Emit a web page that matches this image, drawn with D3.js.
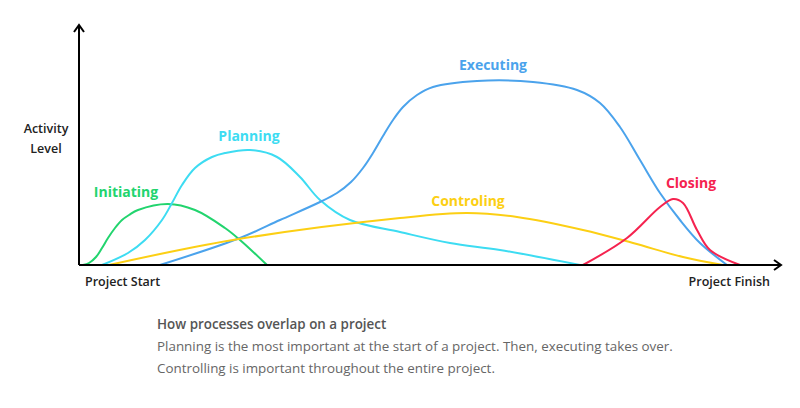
<!DOCTYPE html>
<html>
<head>
<meta charset="utf-8">
<script src="https://cdn.jsdelivr.net/npm/d3@7"></script>
<style>
  body { margin: 0; background: #fff; font-family: "Open Sans", sans-serif; }
  .label { font-weight: 700; font-size: 14px; text-anchor: middle; }
  .axisText { font-weight: 600; font-size: 12.5px; fill: #222; }
</style>
</head>
<body>
<div id="chart"></div>
<script>
// time along the project (0 = start, 700 = finish) and activity level (0 - 240)
let initiatingX = [4, 10, 17, 23, 29, 36, 43, 50, 59, 89, 116, 146, 161, 188];
let initiatingY = [0, 2, 8, 17, 27, 37, 45, 50, 55, 61, 55, 37, 25, 0];

let planningX = [23, 49, 66, 83, 93, 103, 116, 133, 146, 171, 198, 221, 241, 271, 321, 371, 421, 501];
let planningY = [0, 12, 25, 45, 62, 80, 97, 108, 112, 115, 108, 88, 65, 45, 33, 22, 15, 0];

let executingX = [81, 161, 201, 241, 258, 272, 284, 294, 304, 314, 324, 338, 354, 398, 454, 498, 521, 541, 561, 581, 601, 621, 648];
let executingY = [0, 27, 45, 63, 72, 83, 97, 112, 129, 145, 158, 170, 178, 184, 183, 175, 162, 138, 105, 72, 45, 22, 0];

let controllingX = [30, 154, 321, 388, 438, 504, 554, 604, 644];
let controllingY = [0, 25, 47, 52, 48, 35, 22, 8, 0];

let closingX = [504, 548, 581, 594, 604, 618, 631, 661];
let closingY = [0, 27, 58, 66, 62, 35, 15, 0];

let series = [
  { name: "Initiating", xs: initiatingX, ys: initiatingY, color: "#22d46e", lx: 47, ly: 68 },
  { name: "Planning", xs: planningX, ys: planningY, color: "#3ddcf2", lx: 170, ly: 124 },
  { name: "Executing", xs: executingX, ys: executingY, color: "#4ba3ec", lx: 414, ly: 195 },
  { name: "Controling", xs: controllingX, ys: controllingY, color: "#fccf14", lx: 389, ly: 59 },
  { name: "Closing", xs: closingX, ys: closingY, color: "#f5234f", lx: 612, ly: 77 }
];

let svgWidth = 800;
let svgHeight = 408;

let x = d3.scaleLinear().domain([0, 700]).range([79, 779]);
let y = d3.scaleLinear().domain([0, 240]).range([265, 25]);

let svg = d3.select("#chart")
  .append("svg")
  .attr("width", svgWidth)
  .attr("height", svgHeight);

let line = d3.line()
  .x(d => x(d[0]))
  .y(d => y(d[1]))
  .curve(d3.curveCatmullRom.alpha(0.5));

// curves
series.forEach(s => {
  let pts = s.xs.map((v, i) => [v, s.ys[i]]);
  svg.append("path")
    .datum(pts)
    .attr("d", line)
    .attr("fill", "none")
    .attr("stroke", s.color)
    .attr("stroke-width", 2);

  svg.append("text")
    .attr("class", "label")
    .attr("x", x(s.lx))
    .attr("y", y(s.ly))
    .attr("fill", s.color)
    .text(s.name);
});

// axes with arrows
svg.append("line")
  .attr("x1", x(0)).attr("y1", y(0))
  .attr("x2", x(0)).attr("y2", y(240))
  .attr("stroke", "#000").attr("stroke-width", 2);
svg.append("path")
  .attr("d", `M${x(0) - 5},${y(240) + 7} L${x(0)},${y(240)} L${x(0) + 5},${y(240) + 7}`)
  .attr("fill", "none").attr("stroke", "#000").attr("stroke-width", 2);

svg.append("line")
  .attr("x1", x(0)).attr("y1", y(0))
  .attr("x2", x(702)).attr("y2", y(0))
  .attr("stroke", "#000").attr("stroke-width", 2);
svg.append("path")
  .attr("d", `M${x(702) - 7},${y(0) - 5} L${x(702)},${y(0)} L${x(702) - 7},${y(0) + 5}`)
  .attr("fill", "none").attr("stroke", "#000").attr("stroke-width", 2);

// axis labels
svg.append("text").attr("class", "axisText")
  .attr("x", 46).attr("y", 133).attr("text-anchor", "middle").text("Activity");
svg.append("text").attr("class", "axisText")
  .attr("x", 46).attr("y", 153).attr("text-anchor", "middle").text("Level");
svg.append("text").attr("class", "axisText")
  .attr("x", 85).attr("y", 286).text("Project Start");
svg.append("text").attr("class", "axisText")
  .attr("x", 770).attr("y", 286).attr("text-anchor", "end").text("Project Finish");

// caption
svg.append("text")
  .attr("x", 157).attr("y", 329)
  .attr("fill", "#555").attr("font-weight", 600).attr("font-size", "13.4px")
  .text("How processes overlap on a project");
svg.append("text")
  .attr("x", 157).attr("y", 351)
  .attr("fill", "#666").attr("font-size", "13.4px")
  .text("Planning is the most important at the start of a project. Then, executing takes over.");
svg.append("text")
  .attr("x", 157).attr("y", 373)
  .attr("fill", "#666").attr("font-size", "13.4px")
  .text("Controlling is important throughout the entire project.");
</script>
</body>
</html>
